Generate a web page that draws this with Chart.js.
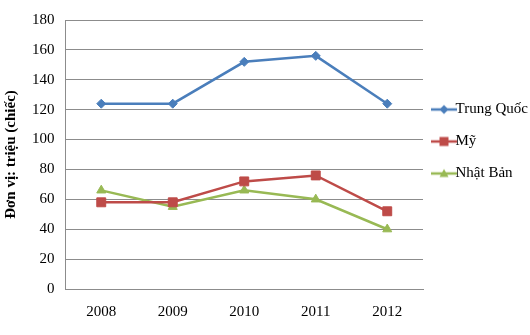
<!DOCTYPE html>
<html>
<head>
<meta charset="utf-8">
<script src="https://cdn.jsdelivr.net/npm/chart.js@4/dist/chart.umd.min.js"></script>
<style>
  html, body { margin: 0; padding: 0; background: #fff; }
  #wrap { width: 530px; height: 335px; }
</style>
</head>
<body>
<div id="wrap"><canvas id="lineChart"></canvas></div>
<script>
const years = ['2008', '2009', '2010', '2011', '2012']
const trungQuoc = [124, 124, 152, 156, 124]
const my = [58, 58, 72, 76, 52]
const nhatBan = [66, 55, 66, 60, 40]

const serif = '"Liberation Serif", "Times New Roman", serif'

// little line + marker icon for the legend
function legendIcon(color, style) {
    let c = document.createElement('canvas')
    c.width = 26
    c.height = 12
    let ctx = c.getContext('2d')
    ctx.strokeStyle = color
    ctx.fillStyle = color
    ctx.lineWidth = 2.5
    ctx.beginPath()
    ctx.moveTo(0, 6)
    ctx.lineTo(26, 6)
    ctx.stroke()
    ctx.beginPath()
    if (style === 'rectRot') {
        ctx.moveTo(13, 1.5); ctx.lineTo(17.5, 6); ctx.lineTo(13, 10.5); ctx.lineTo(8.5, 6)
    } else if (style === 'rect') {
        ctx.rect(8.5, 1.5, 9, 9)
    } else {
        ctx.moveTo(13, 1.5); ctx.lineTo(17.5, 9.5); ctx.lineTo(8.5, 9.5)
    }
    ctx.closePath()
    ctx.fill()
    return c
}

function series(label, data, color, style, radius) {
    return {
        label: label,
        data: data,
        borderColor: color,
        backgroundColor: color,
        borderWidth: 2.5,
        pointStyle: style,
        pointRadius: radius,
        pointHoverRadius: radius,
        pointBorderWidth: 1,
        tension: 0,
        icon: legendIcon(color, style)
    }
}

document.addEventListener('DOMContentLoaded', function() {
    let lineData = {
        labels: years,
        datasets: [
            series('Trung Quốc', trungQuoc, '#4a7ebb', 'rectRot', 4.5),
            series('Mỹ', my, '#be4b48', 'rect', 6.3),
            series('Nhật Bản', nhatBan, '#98b954', 'triangle', 5.2)
        ]
    }

    let lineOptions = {
        responsive: true,
        maintainAspectRatio: false,
        animation: false,
        layout: { padding: { top: 14, right: 0, bottom: 0, left: 1 } },
        plugins: {
            tooltip: { enabled: false },
            legend: {
                position: 'right',
                align: 'start',
                maxWidth: 107,
                // empty title only pushes the items down
                title: { display: true, text: '', padding: { top: 29, bottom: 30 }, font: { size: 12, lineHeight: 1 } },
                labels: {
                    usePointStyle: true,
                    pointStyleWidth: 8,
                    padding: 17,
                    color: '#000',
                    font: { family: serif, size: 15 },
                    generateLabels: function(chart) {
                        return chart.data.datasets.map((ds, i) => ({
                            text: ds.label,
                            pointStyle: ds.icon,
                            fillStyle: ds.borderColor,
                            strokeStyle: ds.borderColor,
                            lineWidth: 0,
                            datasetIndex: i,
                            fontColor: '#000'
                        }))
                    }
                }
            }
        },
        scales: {
            x: {
                type: 'category',
                offset: true,
                grid: { display: false, drawTicks: false },
                border: { display: true, color: '#8c8c8c', width: 1 },
                ticks: { color: '#000', padding: 14, font: { family: serif, size: 15 } }
            },
            y: {
                min: 0,
                max: 180,
                ticks: { stepSize: 20, color: '#000', padding: 11, font: { family: serif, size: 15 } },
                grid: { color: '#8c8c8c', lineWidth: 1, drawTicks: false },
                border: { display: true, color: '#8c8c8c', width: 1 },
                title: {
                    display: true,
                    text: 'Đơn vị: triệu (chiếc)',
                    color: '#000',
                    padding: 1,
                    font: { family: serif, size: 15, weight: 'bold' }
                }
            }
        }
    }

    new Chart(document.getElementById('lineChart'), {
        type: 'line',
        data: lineData,
        options: lineOptions
    })
})
</script>
</body>
</html>
